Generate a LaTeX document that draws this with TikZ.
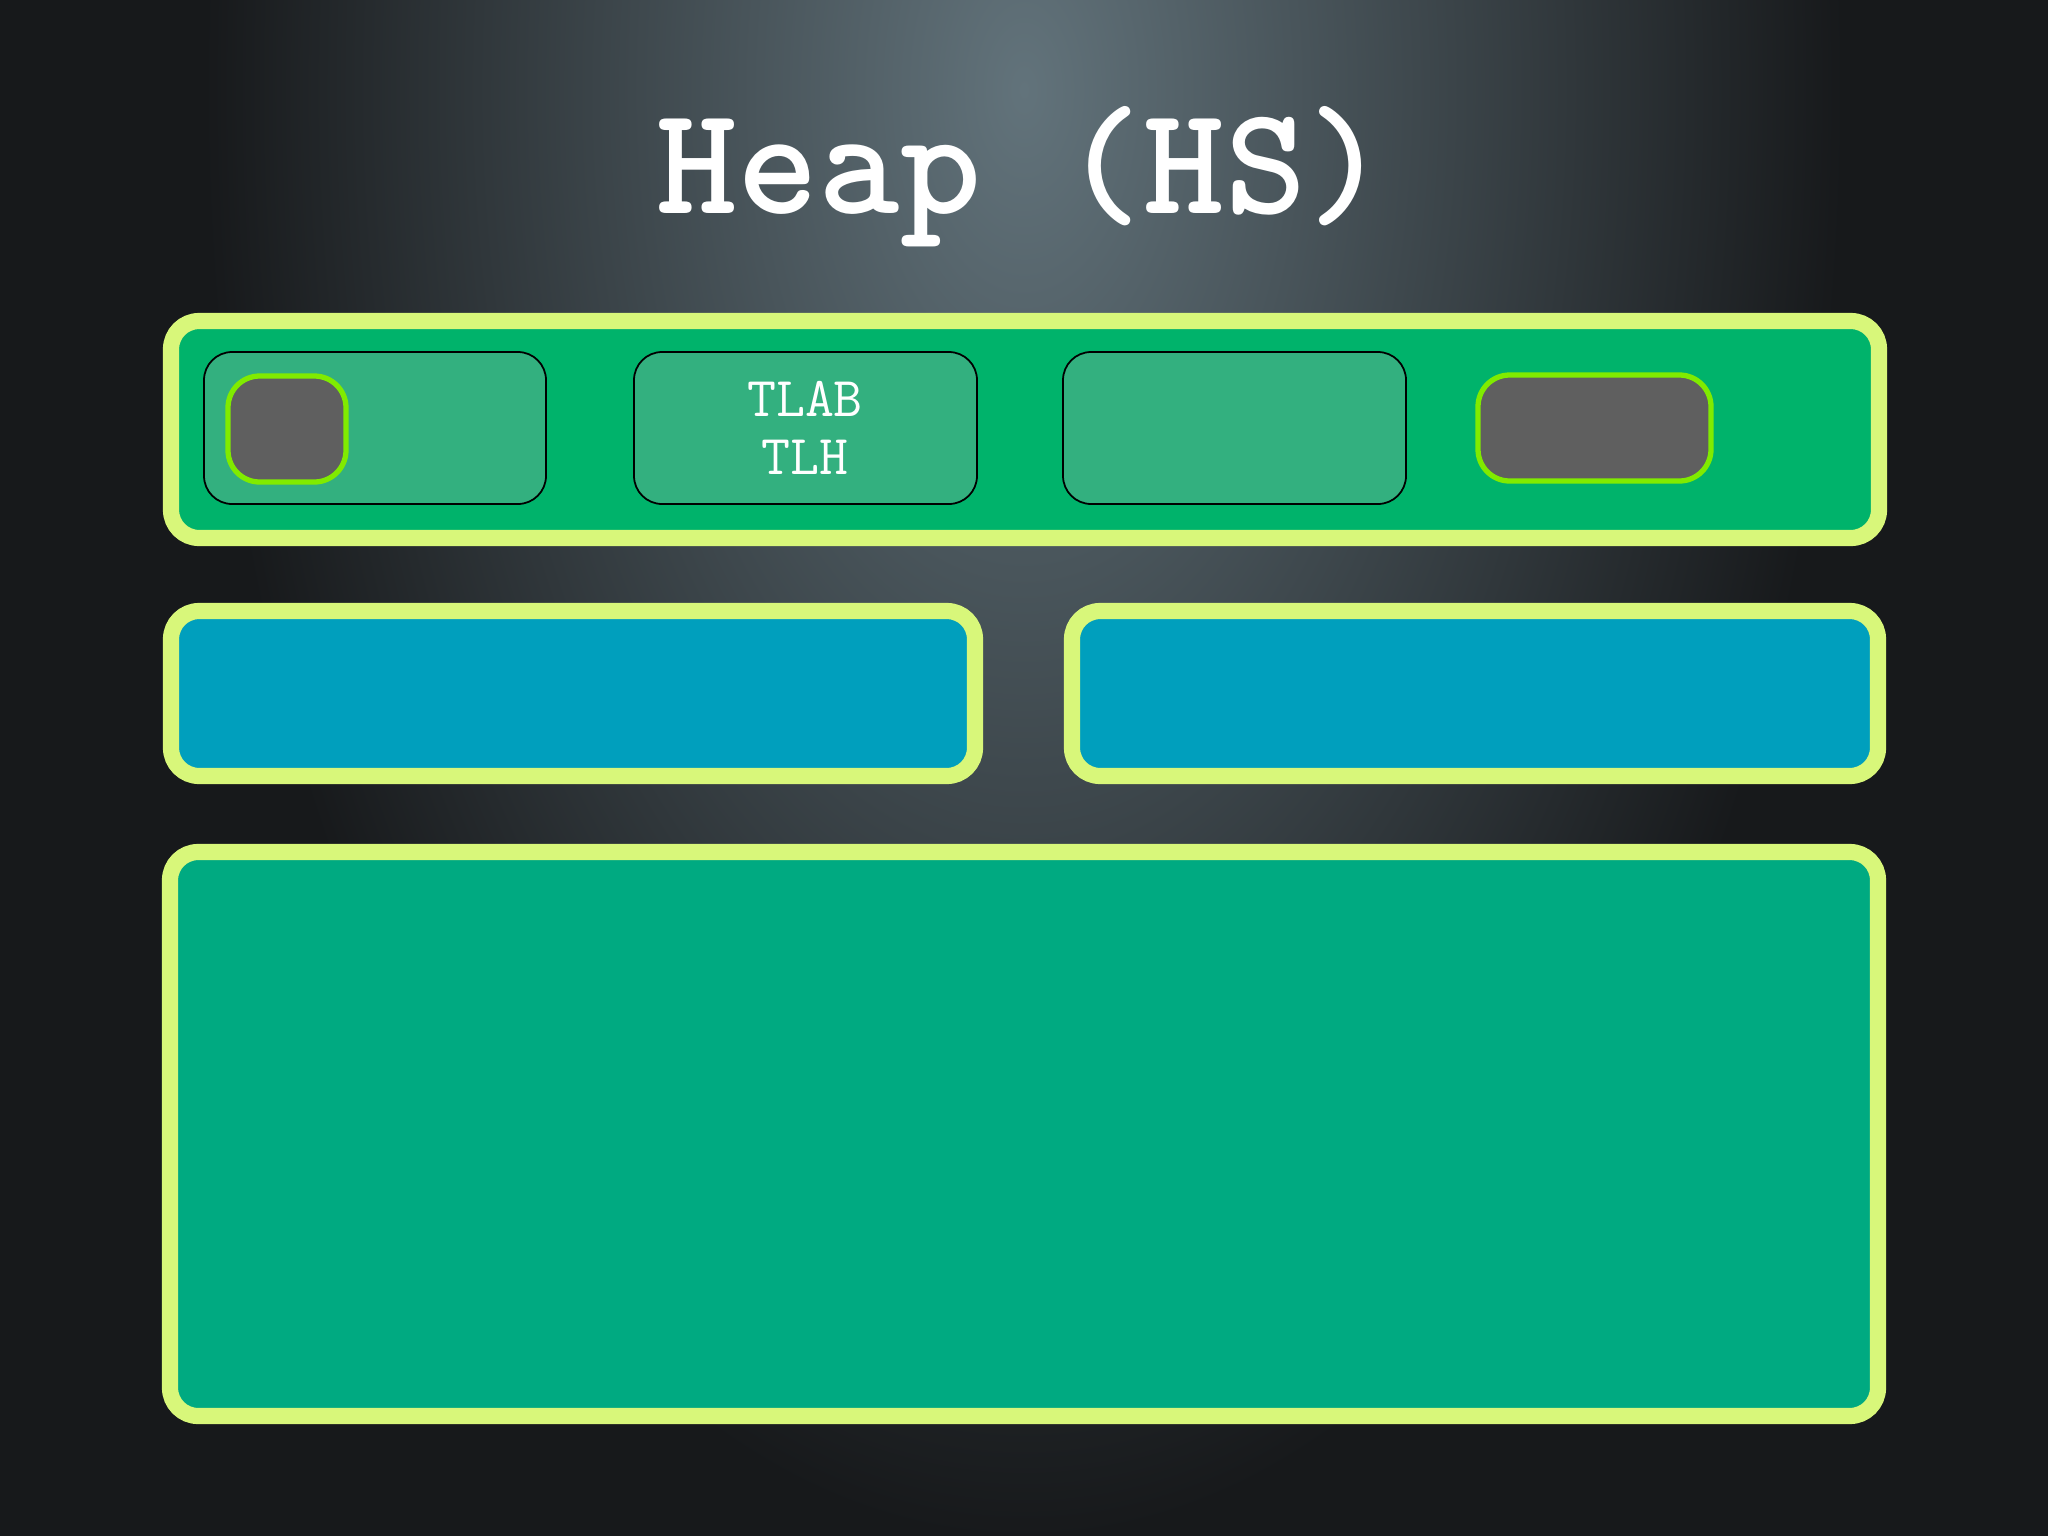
\documentclass[tikz,border=0pt]{standalone}
\usepackage{xcolor}

\definecolor{bgdark}{HTML}{17191B}
\definecolor{bglight}{HTML}{62737B}
\definecolor{limeedge}{HTML}{D8F77A}
\definecolor{edengreen}{HTML}{00B36B}
\definecolor{tlabgreen}{HTML}{33B07F}
\definecolor{usedgray}{HTML}{5F5F5F}
\definecolor{usededge}{HTML}{80EB00}
\definecolor{survblue}{HTML}{009FBD}
\definecolor{oldgreen}{HTML}{00AA81}

\begin{document}
\begin{tikzpicture}[x=0.01cm, y=-0.01cm,
  region/.style={draw=limeedge, line width=4.6pt, rounded corners=8pt},
  tlabbox/.style={draw=black, line width=0.5pt, fill=tlabgreen, rounded corners=8pt},
  usedbox/.style={draw=usededge, line width=1.5pt, fill=usedgray, rounded corners=9pt}]
  \useasboundingbox (0,0) rectangle (2048,1536);
  \clip (0,0) rectangle (2048,1536);

  % Dark backdrop, lighter toward the top middle
  \fill[bgdark] (0,0) rectangle (2048,1536);
  \shade[inner color=bglight, outer color=bgdark] (1024,90) ellipse (820 and 1450);

  % Title
  \node[anchor=base, text=white, font=\fontsize{44}{50}\selectfont\ttfamily\bfseries] (title) at (1022,213) {Heap (HS)};

  % Top band with the TLABs
  \draw[region, fill=edengreen] (171,321) rectangle (1879,538);
  \draw[tlabbox] (204,352) rectangle (546,504);
  \draw[tlabbox] (634,352) rectangle (977,504);
  \draw[tlabbox] (1063,352) rectangle (1406,504);
  \draw[usedbox] (228,376) rectangle (346,482);
  \draw[usedbox] (1478,375) rectangle (1711,481);
  \node[align=center, text=white, font=\fontsize{16}{16.5}\selectfont\ttfamily] (tlab) at (805,428) {TLAB\\TLH};

  % Middle row
  \draw[region, fill=survblue] (171,611) rectangle (975,776);
  \draw[region, fill=survblue] (1072,611) rectangle (1878,776);

  % Big bottom region
  \draw[region, fill=oldgreen] (170,852) rectangle (1878,1416);
\end{tikzpicture}
\end{document}
